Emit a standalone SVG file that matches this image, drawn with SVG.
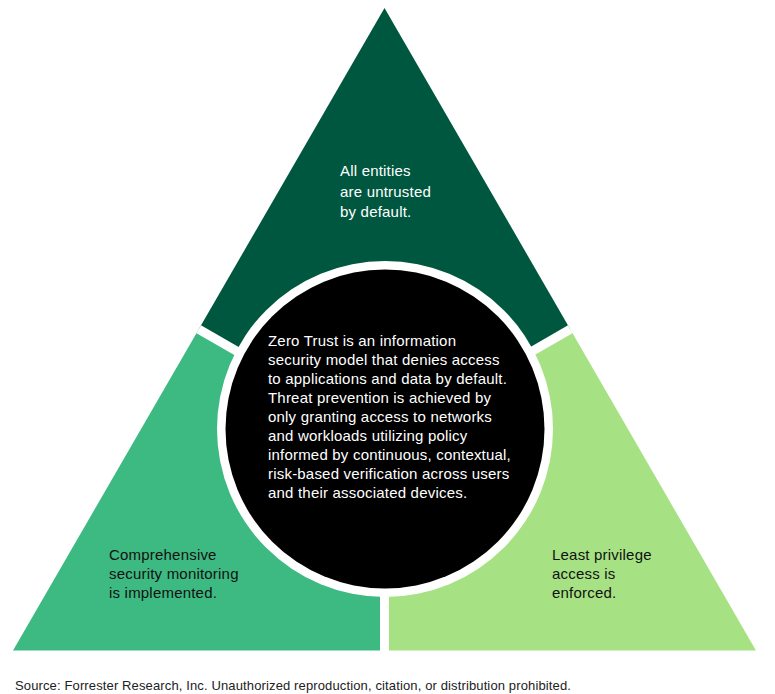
<svg xmlns="http://www.w3.org/2000/svg" width="775" height="694" viewBox="0 0 775 694">
<style>
.t{font-family:"Liberation Sans",Arial,sans-serif;font-size:15px;letter-spacing:0.2px}
.w{fill:#ffffff}
.k{fill:#111111}
.gap{stroke:#ffffff;stroke-width:9;fill:none}
</style>
<rect width="775" height="694" fill="#ffffff"/>
<g id="top-segment">
<polygon points="384.5,8 570.25,329.25 384.5,436.3 198.75,329.25" fill="#00573F"/>
</g>
<g id="left-segment">
<polygon points="198.75,329.25 384.5,436.3 384.5,650.5 13,650.5" fill="#3DB982"/>
</g>
<g id="right-segment">
<polygon points="570.25,329.25 756,650.5 384.5,650.5 384.5,436.3" fill="#A6E283"/>
</g>
<g id="connectors">
<line class="gap" x1="384.5" y1="436.3" x2="198.75" y2="329.25"/>
<line class="gap" x1="384.5" y1="436.3" x2="570.25" y2="329.25"/>
<line class="gap" x1="384.5" y1="436.3" x2="384.5" y2="652"/>
</g>
<g id="center-circle">
<circle cx="385" cy="429" r="168" fill="#ffffff"/>
<circle cx="385" cy="429" r="159.5" fill="#000000"/>
<text class="t w" x="268">
<tspan x="268" y="346">Zero Trust is an information</tspan>
<tspan x="268" y="365">security model that denies access</tspan>
<tspan x="268" y="384">to applications and data by default.</tspan>
<tspan x="268" y="403">Threat prevention is achieved by</tspan>
<tspan x="268" y="422">only granting access to networks</tspan>
<tspan x="268" y="441">and workloads utilizing policy</tspan>
<tspan x="268" y="460">informed by continuous, contextual,</tspan>
<tspan x="268" y="479">risk-based verification across users</tspan>
<tspan x="268" y="498">and their associated devices.</tspan>
</text>
</g>
<g id="top-label">
<text class="t w">
<tspan x="340" y="176">All entities</tspan>
<tspan x="340" y="197">are untrusted</tspan>
<tspan x="340" y="217">by default.</tspan>
</text>
</g>
<g id="left-label">
<text class="t k">
<tspan x="109" y="560">Comprehensive</tspan>
<tspan x="109" y="579">security monitoring</tspan>
<tspan x="109" y="598">is implemented.</tspan>
</text>
</g>
<g id="right-label">
<text class="t k">
<tspan x="552" y="560">Least privilege</tspan>
<tspan x="552" y="579">access is</tspan>
<tspan x="552" y="598">enforced.</tspan>
</text>
</g>
<g id="source">
<text x="15" y="690" style="font-family:'Liberation Sans',Arial,sans-serif;font-size:13px;letter-spacing:0.13px;fill:#222222">Source: Forrester Research, Inc. Unauthorized reproduction, citation, or distribution prohibited.</text>
</g>
</svg>
